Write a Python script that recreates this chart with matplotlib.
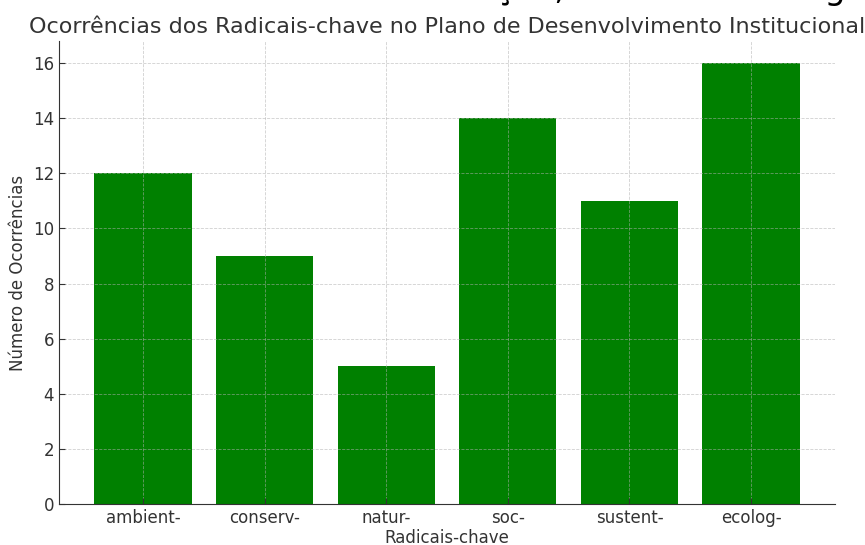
import matplotlib
matplotlib.use("Agg")
import matplotlib.pyplot as plt

radicais = ["ambient-", "conserv-", "natur-", "soc-", "sustent-", "ecolog-"]
ocorrencias = [12, 9, 5, 14, 11, 16]

TEXT = "#333333"

fig = plt.figure(figsize=(8.65, 5.45), dpi=100)
ax = fig.add_axes([59 / 865, 41 / 545, 776 / 865, 463 / 545])

ax.bar(radicais, ocorrencias, color="#008000", width=0.8)
ax.grid(True, linestyle="--", color="#b0b0b0", linewidth=0.6, alpha=0.6)

ax.set_title("Ocorrências dos Radicais-chave no Plano de Desenvolvimento Institucional",
             fontsize=16, color=TEXT)
ax.set_xlabel("Radicais-chave", fontsize=12, color=TEXT, labelpad=1.5)
ax.set_ylabel("Número de Ocorrências", fontsize=12, color=TEXT)
ax.tick_params(labelsize=12, colors=TEXT, direction="in", length=4)
for side in ("top", "right"):
    ax.spines[side].set_visible(False)
for side in ("left", "bottom"):
    ax.spines[side].set_color(TEXT)

# line of a larger heading above the chart, cut off by the image border
fig.text(875 / 865, 1.0 + 1 / 545, "Radicais de Educação, Ética e Tecnologia",
         fontsize=24, color="black", ha="right", va="baseline")

fig.savefig("out.png", dpi=100)
